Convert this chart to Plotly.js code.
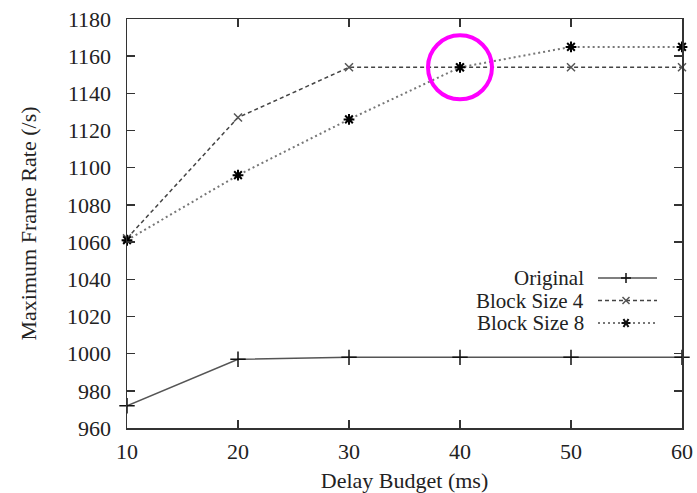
<!DOCTYPE html>
<html>
<head>
<meta charset="utf-8">
<script src="https://cdn.plot.ly/plotly-3.0.1.min.js"></script>
<style>html,body{margin:0;padding:0;background:#fff;}#chart{width:697px;height:493px;}</style>
</head>
<body>
<div id="chart"></div>
<script>
var delayBudget = [10, 20, 30, 40, 50, 60];
var original = [972, 997, 998, 998, 998, 998];
var blockSize4 = [1062, 1127, 1154, 1154, 1154, 1154];
var blockSize8 = [1061, 1096, 1126, 1154, 1165, 1165];
var seriesNames = ["Original", "Block Size 4", "Block Size 8"];
var yTicks = [960, 980, 1000, 1020, 1040, 1060, 1080, 1100, 1120, 1140, 1160, 1180];
var xTicks = [10, 20, 30, 40, 50, 60];
var highlightX = 40, highlightY = 1154;

var FONT = "Liberation Serif, Liberation Sans, serif";
var traces = [
  {x: delayBudget, y: original, name: seriesNames[0], mode: "lines+markers",
   line: {color: "#555", width: 1.5, dash: "solid"},
   marker: {symbol: "cross-thin", size: 11, color: "#111", line: {color: "#111", width: 1.5}}},
  {x: delayBudget, y: blockSize4, name: seriesNames[1], mode: "lines+markers",
   line: {color: "#444", width: 1.5, dash: "4px,3px"},
   marker: {symbol: "x-thin", size: 8, color: "#555", line: {color: "#555", width: 1.5}}},
  {x: delayBudget, y: blockSize8, name: seriesNames[2], mode: "lines+markers",
   line: {color: "#777", width: 2, dash: "2px,3px"},
   marker: {symbol: "asterisk", size: 9, color: "#000", line: {color: "#000", width: 2}}}
];

function px2x(p){ return (p - 127) / 555; }
function py2y(p){ return (428 - p) / 409; }

var legendRows = [278, 300.5, 323];
var legendDash = ["solid", "4px,3px", "2px,3px"];
var legendColor = ["#555", "#444", "#777"];
var shapes = [
  {type: "circle", xref: "x", yref: "y", xsizemode: "pixel", ysizemode: "pixel",
   xanchor: highlightX, yanchor: highlightY, x0: -32, x1: 32, y0: -32, y1: 32,
   line: {color: "#ff00ff", width: 4}}
];
var annotations = [];
for (var i = 0; i < 3; i++) {
  var yy = py2y(legendRows[i]);
  shapes.push({type: "line", xref: "paper", yref: "paper", x0: px2x(598), x1: px2x(657), y0: yy, y1: yy,
    line: {color: legendColor[i], width: i === 2 ? 2 : 1.5, dash: legendDash[i]}});
  var path;
  if (i === 0) path = "M-5,0 L5,0 M0,-5 L0,5";
  else if (i === 1) path = "M-3.5,-3.5 L3.5,3.5 M-3.5,3.5 L3.5,-3.5";
  else path = "M-4.5,0 L4.5,0 M-2.5,-4 L2.5,4 M-2.5,4 L2.5,-4";
  shapes.push({type: "path", xref: "paper", yref: "paper", xsizemode: "pixel", ysizemode: "pixel",
    xanchor: px2x(626), yanchor: yy, path: path,
    line: {color: i === 1 ? "#555" : "#111", width: i === 2 ? 2 : 1.5}});
  annotations.push({xref: "paper", yref: "paper", x: px2x(585), y: yy, xanchor: "right", yanchor: "middle",
    text: seriesNames[i], showarrow: false, borderpad: 0,
    font: {family: FONT, size: 21, color: "#222"}});
}

var layout = {
  width: 697, height: 493,
  margin: {l: 127, r: 15, t: 19, b: 65},
  paper_bgcolor: "#fff", plot_bgcolor: "#fff",
  showlegend: false,
  font: {family: FONT, size: 22, color: "#222"},
  xaxis: {range: [10, 60], tickvals: xTicks, ticks: "inside", ticklen: 8, tickwidth: 1.5, tickcolor: "#333",
    showline: true, linecolor: "#333", linewidth: 1.5, mirror: "ticks", showgrid: false, zeroline: false,
    ticklabelstandoff: 3,
    title: {text: "Delay Budget (ms)", font: {family: FONT, size: 22, color: "#222"}, standoff: 10},
    tickfont: {family: FONT, size: 22, color: "#222"}},
  yaxis: {range: [960, 1180], tickvals: yTicks, ticks: "inside", ticklen: 8, tickwidth: 1.5, tickcolor: "#333",
    showline: true, linecolor: "#333", linewidth: 1.5, mirror: "ticks", showgrid: false, zeroline: false,
    ticklabelstandoff: 10,
    title: {text: "Maximum Frame Rate (/s)", font: {family: FONT, size: 22, color: "#222"}, standoff: 24},
    tickfont: {family: FONT, size: 22, color: "#222"}},
  shapes: shapes,
  annotations: annotations
};
traces.forEach(function(t){ t.cliponaxis = false; });
Plotly.newPlot("chart", traces, layout, {displayModeBar: false, staticPlot: true});
</script>
</body>
</html>
